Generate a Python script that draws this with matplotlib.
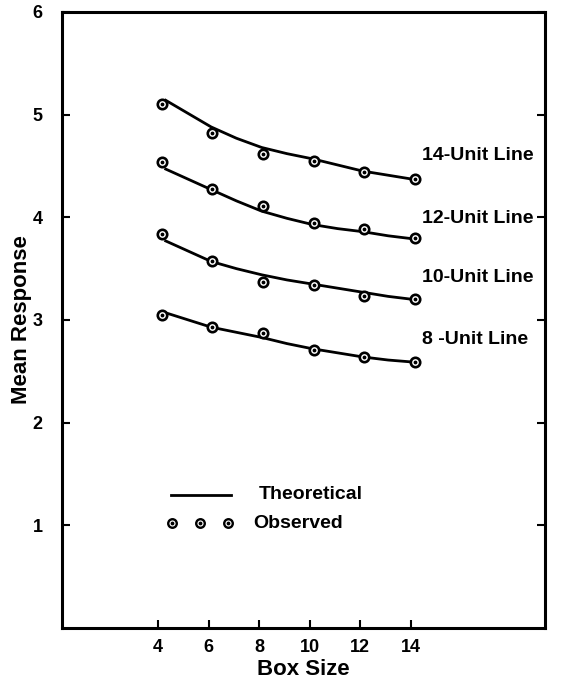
import numpy as np
import matplotlib.pyplot as plt

plt.rcParams['font.family'] = ['Liberation Sans', 'DejaVu Sans']
plt.rcParams['font.weight'] = 'bold'

box = [4.15, 6.15, 8.15, 10.15, 12.15, 14.15]
line_names = ['14-Unit Line', '12-Unit Line', '10-Unit Line', '8 -Unit Line']

# observed means
obs_14 = [5.10, 4.82, 4.62, 4.55, 4.44, 4.37]
obs_12 = [4.54, 4.28, 4.11, 3.94, 3.89, 3.80]
obs_10 = [3.84, 3.57, 3.37, 3.34, 3.23, 3.20]
obs_8 = [3.05, 2.93, 2.87, 2.71, 2.64, 2.59]

# theoretical curves
th_x = [4.3, 5.2, 6.1, 7.1, 8.1, 9.1, 10.1, 11.1, 12.1, 13.1, 14.1]
th_14 = [5.14, 5.01, 4.88, 4.77, 4.68, 4.62, 4.57, 4.51, 4.45, 4.41, 4.37]
th_12 = [4.47, 4.37, 4.27, 4.16, 4.06, 3.99, 3.93, 3.89, 3.86, 3.82, 3.79]
th_10 = [3.77, 3.67, 3.57, 3.50, 3.44, 3.39, 3.35, 3.31, 3.27, 3.23, 3.20]
th_8 = [3.07, 3.00, 2.93, 2.88, 2.83, 2.77, 2.72, 2.68, 2.64, 2.61, 2.59]

label_y = [4.60, 3.99, 3.41, 2.81]

fig = plt.figure(figsize=(5.64, 6.88), dpi=100)
ax = fig.add_axes([0.110, 0.0872, 0.856, 0.8954])

for th, ob in zip([th_14, th_12, th_10, th_8], [obs_14, obs_12, obs_10, obs_8]):
    ax.plot(th_x, th, color='black', lw=2.0, zorder=2)
    ax.scatter(box, ob, s=46, facecolor='white', edgecolor='black', linewidth=1.9, zorder=3)
    ax.scatter(box, ob, s=3, color='black', zorder=4)

for name, ly in zip(line_names, label_y):
    ax.text(14.45, ly, name, fontsize=14, fontweight='bold', va='center', ha='left')

# legend drawn inside the axes
ax.plot([4.5, 6.9], [1.30, 1.30], color='black', lw=2.0)
ax.text(8.0, 1.30, 'Theoretical', fontsize=14, fontweight='bold', va='center')
leg_x = [4.55, 5.65, 6.75]
ax.scatter(leg_x, [1.02] * 3, s=38, facecolor='white', edgecolor='black', linewidth=1.7)
ax.scatter(leg_x, [1.02] * 3, s=3, color='black')
ax.text(7.75, 1.02, 'Observed', fontsize=14, fontweight='bold', va='center')

ax.set_xlim(0.2, 19.3)
ax.set_ylim(0, 6)
ax.set_xticks([4, 6, 8, 10, 12, 14])
ax.set_yticks([1, 2, 3, 4, 5, 6])
ax.tick_params(axis='both', direction='in', length=6, width=1.5, labelsize=13)
ax.tick_params(axis='y', right=True, pad=14)
ax.tick_params(axis='x', pad=8)
for sp in ax.spines.values():
    sp.set_linewidth(2.2)

ax.set_xlabel('Box Size', fontsize=16, fontweight='bold', labelpad=2)
ax.set_ylabel('Mean Response', fontsize=16, fontweight='bold')
ax.yaxis.set_label_coords(-0.062, 0.5)

fig.savefig('out.png', dpi=100)
